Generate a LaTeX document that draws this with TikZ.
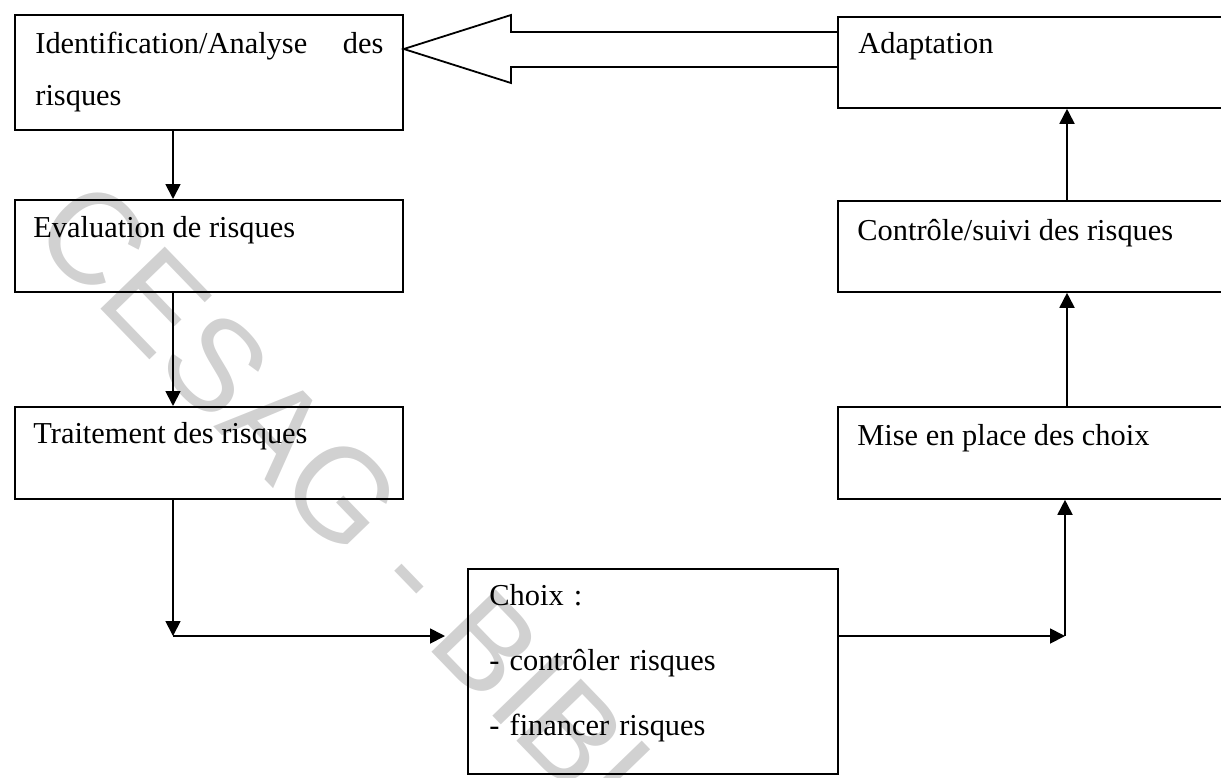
\documentclass[tikz,border=0pt]{standalone}
\usepackage{fontspec}
\setmainfont{Liberation Serif}
\newfontfamily\wmfont{Liberation Sans}
\usetikzlibrary{arrows.meta,calc}
\begin{document}
\begin{tikzpicture}[x=0.5pt,y=-0.5pt,
  box/.style={draw, line width=0.9pt, inner sep=0pt, anchor=north west},
  txt/.style={anchor=base west, inner sep=0pt, font=\fontsize{15.2}{26}\selectfont},
  arr/.style={line width=0.9pt, -{Triangle[length=7.5pt,width=7.5pt]}},
  hollow/.style={line width=0.9pt, line join=miter},
  wmark/.style={rotate=-46, anchor=base west, inner sep=0pt, text=black!18,
    font=\wmfont\fontsize{65}{65}\selectfont}]
\useasboundingbox (0,0) rectangle (1221,777);
\clip (0,0) rectangle (1221,777);

% library stamp behind the chart
\node[wmark] (stamp) at (28,234) {CESAG - BIBLIOTHEQUE};

% process boxes
\node[box, minimum width=194pt, minimum height=57.5pt] (ident) at (14,14) {};
\node[box, minimum width=194pt, minimum height=46pt]   (eval)  at (14,199) {};
\node[box, minimum width=194pt, minimum height=46pt]   (trait) at (14,406) {};
\node[box, minimum width=230pt, minimum height=45.5pt] (adapt) at (837,16) {};
\node[box, minimum width=230pt, minimum height=45.5pt] (ctrl)  at (837,200) {};
\node[box, minimum width=230pt, minimum height=46pt]   (mise)  at (837,406) {};
\node[box, minimum width=185pt, minimum height=102.5pt] (choix) at (467,568) {};

% box texts
\node[txt, text width=174pt, align=left] (t-ident) at (35,53)
  {\hbox to 174pt{Identification/Analyse\hfill des}\\risques};
\node[txt] (t-eval)  at (33,237)  {Evaluation de risques};
\node[txt] (t-trait) at (33,443)  {Traitement des risques};
\node[txt] (t-adapt) at (858,53)  {Adaptation};
\node[txt] (t-ctrl)  at (857,240) {Contrôle/suivi des risques};
\node[txt] (t-mise)  at (857,445) {Mise en place des choix};
\node[txt, text width=170pt, align=left, font=\fontsize{15.2}{32.5}\selectfont]
  (t-choix) at (489,605) {Choix :\\- contrôler risques\\- financer risques};

% connector columns and corners
\coordinate (lx) at (173,0);
\coordinate (rx) at (1067,0);
\coordinate (c1) at (173,636);
\coordinate (c1e) at (445,636);
\coordinate (c2) at (1065,636);

\draw[arr] (ident.south -| lx) -- (eval.north -| lx);
\draw[arr] (eval.south -| lx) -- (trait.north -| lx);
\draw[arr] (trait.south -| lx) -- (c1);
\draw[arr] (c1) -- (c1e);
\draw[arr] (choix.east |- c2) -- (c2);
\draw[arr] (c2) -- (mise.south -| c2);
\draw[arr] (mise.north -| rx) -- (ctrl.south -| rx);
\draw[arr] (ctrl.north -| rx) -- (adapt.south -| rx);

% broad hollow arrow from Adaptation back to the start
\coordinate (st) at (0,32);
\coordinate (sb) at (0,67);
\coordinate (hy) at (0,49);
\coordinate (ht) at (511,15);
\coordinate (hb) at (511,83);
\draw[hollow] (adapt.west |- st) -- (ht |- st) -- (ht) -- (ident.east |- hy)
  -- (hb) -- (hb |- sb) -- (adapt.west |- sb);
\end{tikzpicture}
\end{document}
